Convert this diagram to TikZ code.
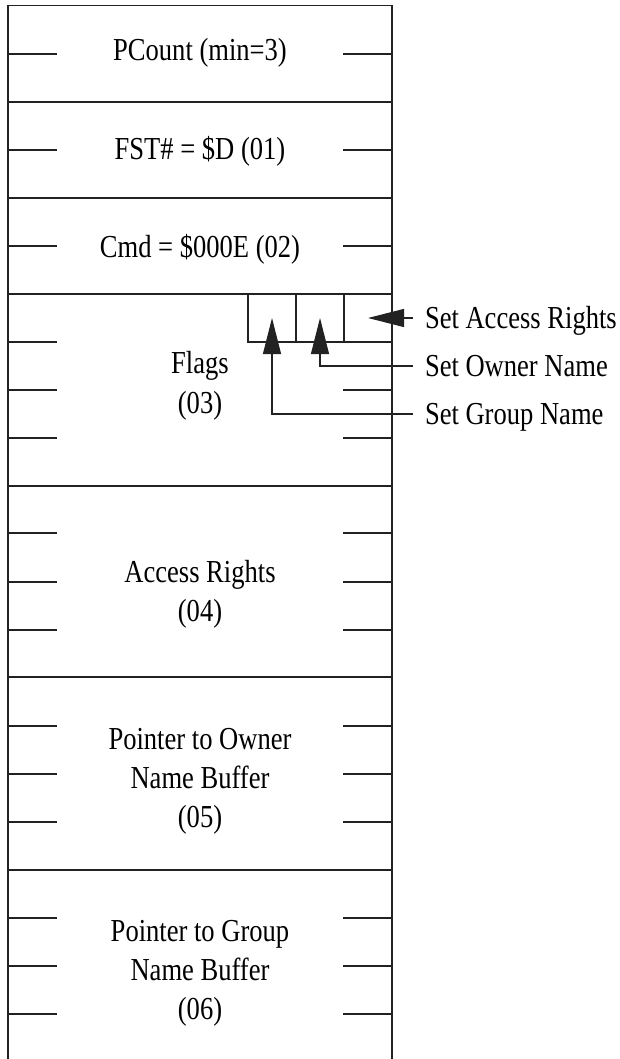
\documentclass[tikz,border=0pt]{standalone}
\usepackage{fontspec}
\setmainfont[FakeStretch=0.83]{Liberation Serif}
\usetikzlibrary{arrows.meta}
\definecolor{ink}{HTML}{222222}
\begin{document}
\begin{tikzpicture}[x=1pt,y=-1pt,line width=1.1pt,draw=ink,
  every node/.style={inner sep=0pt,outer sep=0pt,text=black,font=\fontsize{32}{38}\selectfont},
  rowtext/.style={anchor=base},
  lbl/.style={anchor=base west},
  flagbox/.style={draw=ink,line width=1.1pt,minimum width=48pt,minimum height=48pt,anchor=north west},
  ptr/.style={draw=ink,line width=1.1pt,-{Triangle[length=36pt,width=18pt]}}]
\useasboundingbox (0,0) rectangle (619,1059);
% frame
\draw (8,1062) -- (8,5.7) -- (392,5.7) -- (392,1062);
\foreach \y in {102,198,294,486,677,870} \draw (8,\y) -- (392,\y);
% ticks, left and right
\foreach \y in {54,150,246,533,582,630,726,774,822,918,966,1014}
  {\draw (8,\y) -- (57,\y); \draw (343,\y) -- (392,\y);}
\foreach \y in {342,390,438} \draw (8,\y) -- (57,\y);
\foreach \y in {390,438} \draw (343,\y) -- (392,\y);
% row texts
\node[rowtext] (r1) at (200,61) {PCount (min=3)};
\node[rowtext] (r2) at (200,160) {FST\# = \$D (01)};
\node[rowtext] (r3) at (200,257) {Cmd = \$000E (02)};
\node[rowtext] (r4a) at (200,373) {Flags};
\node[rowtext] (r4b) at (200,413) {(03)};
\node[rowtext] (r5a) at (200,582) {Access Rights};
\node[rowtext] (r5b) at (200,621) {(04)};
\node[rowtext] (r6a) at (200,749) {Pointer to Owner};
\node[rowtext] (r6b) at (200,788) {Name Buffer};
\node[rowtext] (r6c) at (200,827) {(05)};
\node[rowtext] (r7a) at (200,941) {Pointer to Group};
\node[rowtext] (r7b) at (200,980) {Name Buffer};
\node[rowtext] (r7c) at (200,1019) {(06)};
% flag boxes
\node[flagbox] (f1) at (248,294) {};
\node[flagbox] (f2) at (296,294) {};
\node[flagbox] (f3) at (344,294) {};
% labels
\node[lbl] (la) at (425,328) {Set Access Rights};
\node[lbl] (lo) at (425,376) {Set Owner Name};
\node[lbl] (lg) at (425,424) {Set Group Name};
% pointers
\draw[ptr] ([shift={(-12pt,10pt)}]la.base west) -- (f3.center);
\draw[ptr] ([shift={(-12pt,10pt)}]lo.base west) -| (f2.center);
\draw[ptr] ([shift={(-12pt,10pt)}]lg.base west) -| (f1.center);
\end{tikzpicture}
\end{document}
